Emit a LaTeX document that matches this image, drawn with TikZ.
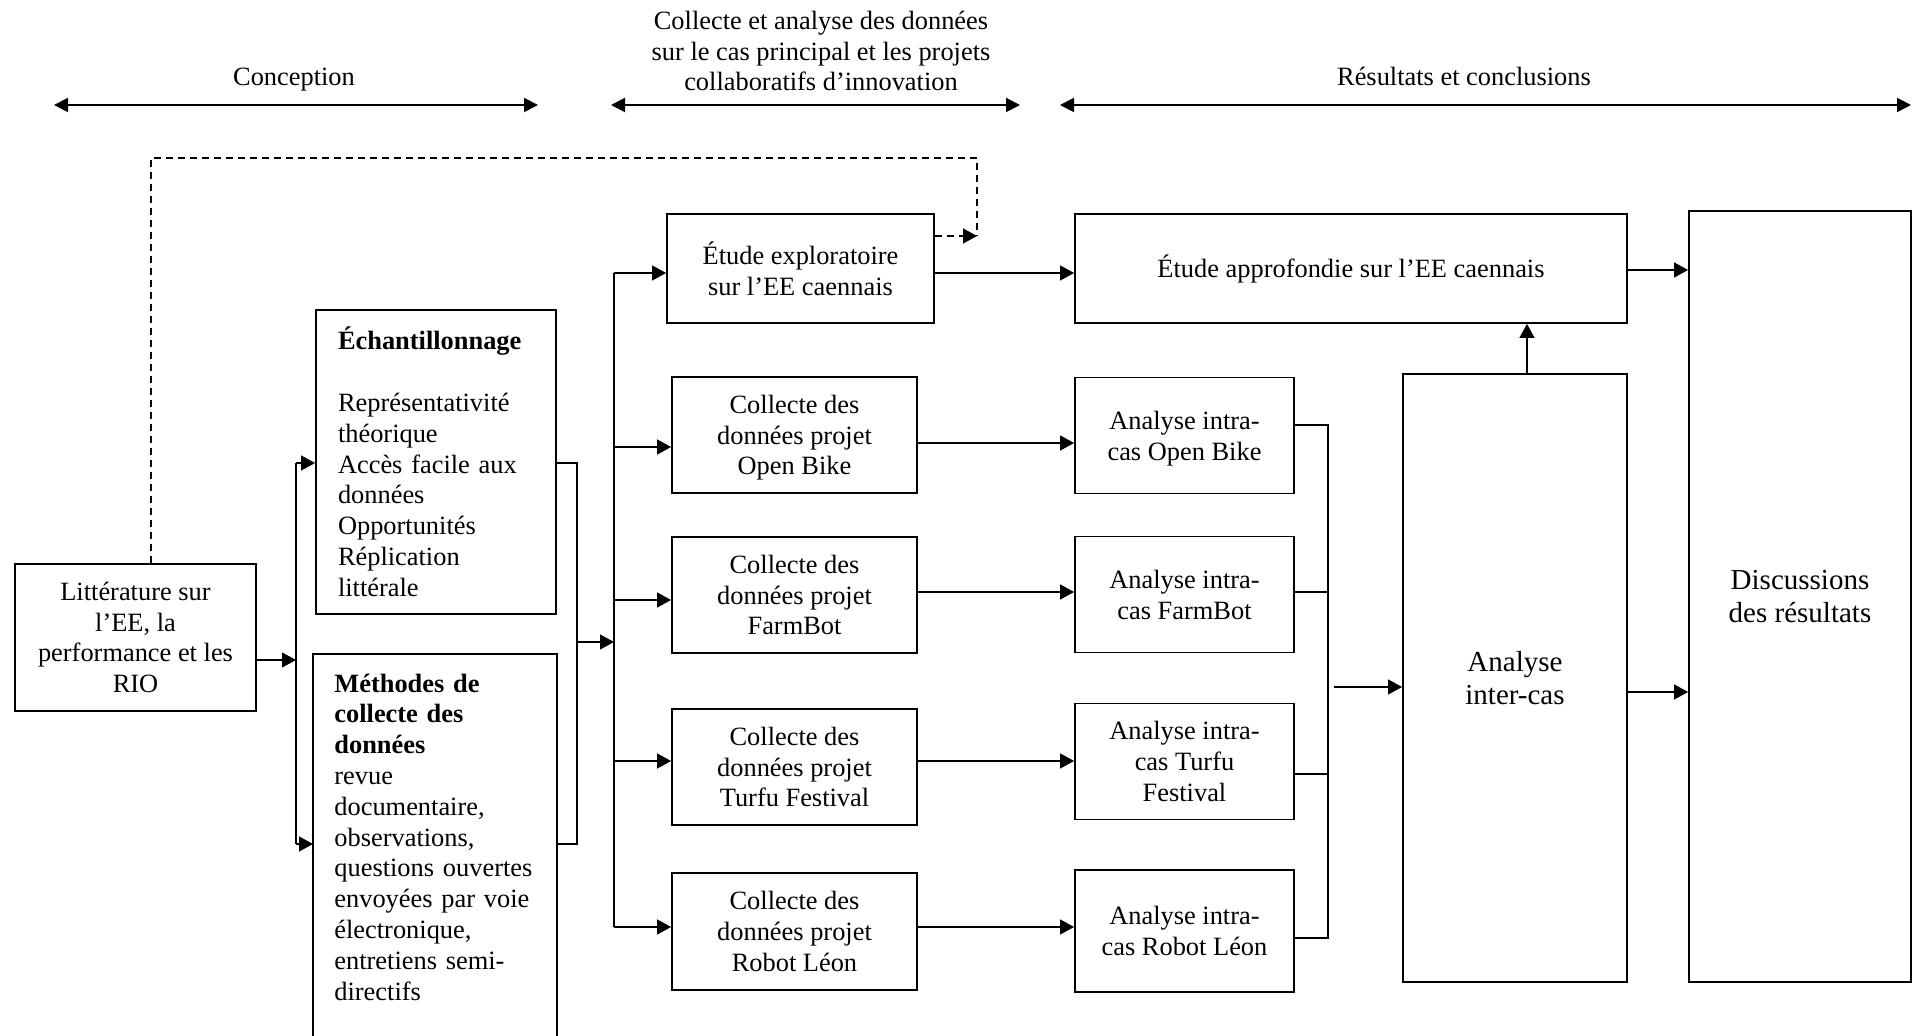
\documentclass[tikz,border=0pt]{standalone}
\usepackage{fontspec}
\setmainfont{Liberation Serif}
\usetikzlibrary{arrows.meta,calc}
\newcommand\szA{\fontsize{13.2pt}{15.4pt}\selectfont}
\newcommand\szB{\fontsize{14.5pt}{16.6pt}\selectfont}
\begin{document}
\begin{tikzpicture}[x=0.5pt,y=-0.5pt,
 box/.style={draw, line width=0.9pt, align=center, inner sep=2pt, font=\szA},
 conn/.style={line width=0.6pt},
 arr/.style={line width=0.6pt, -{Triangle[length=7pt,width=7.5pt]}},
 harr/.style={line width=1pt, {Triangle[length=7pt,width=7pt]}-{Triangle[length=7pt,width=7pt]}},
 dline/.style={line width=0.6pt, dash pattern=on 3.5pt off 2.5pt},
 hdr/.style={font=\szA, align=center, inner sep=0pt}]
\useasboundingbox (0,0) rectangle (1913,1036);
\fill[white] (0,0) rectangle (1913,1036);

% headers
\node[hdr, anchor=base] (h1) at (294,85.5) {Conception};
\node[hdr] (h2) at (821,51) {Collecte et analyse des données\\sur le cas principal et les projets\\collaboratifs d’innovation};
\node[hdr, anchor=base] (h3) at (1464,85.5) {Résultats et conclusions};
\coordinate (ha1) at (54,105); \coordinate (hb1) at (538,105);
\coordinate (ha2) at (611,105); \coordinate (hb2) at (1020,105);
\coordinate (ha3) at (1060,105); \coordinate (hb3) at (1911,105);
\draw[harr] (ha1) -- (hb1);
\draw[harr] (ha2) -- (hb2);
\draw[harr] (ha3) -- (hb3);

% boxes
\node[box, minimum width=120.5pt, minimum height=73.5pt] (litt) at (135.5,637.5) {Littérature sur\\l’EE, la\\performance et les\\RIO};

\node[box, align=left, text width=98pt, inner xsep=11pt, minimum height=152pt] (ech) at (436,462) {\textbf{Échantillonnage}\\[15.4pt]Représentativité\\théorique\\Accès facile aux\\données\\Opportunités\\Réplication\\littérale};

\node[anchor=north west, align=left, text width=100.5pt, inner xsep=10.5pt, inner ysep=9.7pt, font=\szA] (meth) at (313,654) {\textbf{Méthodes de}\\\textbf{collecte des}\\\textbf{données}\\revue\\documentaire,\\observations,\\questions ouvertes\\envoyées par voie\\électronique,\\entretiens semi-\\directifs};
\coordinate (methbot) at (0,1080);
\draw[line width=0.9pt] (meth.north west |- methbot) -- (meth.north west) -- (meth.north east) -- (meth.north east |- methbot);

\node[box, minimum width=133.5pt, minimum height=54.5pt] (expl) at (800.5,268.5) {Étude exploratoire\\sur l’EE caennais};

\node[box, minimum width=122.5pt, minimum height=58pt, text depth=-0.7pt] (c1) at (794.5,435) {Collecte des\\données projet\\Open Bike};
\node[box, minimum width=122.5pt, minimum height=58pt] (c2) at (794.5,595) {Collecte des\\données projet\\FarmBot};
\node[box, minimum width=122.5pt, minimum height=58pt, text depth=-2.4pt] (c3) at (794.5,767) {Collecte des\\données projet\\Turfu Festival};
\node[box, minimum width=122.5pt, minimum height=58.5pt] (c4) at (794.5,931.5) {Collecte des\\données projet\\Robot Léon};

\node[box, minimum width=109.5pt, minimum height=58pt, text depth=-2pt] (a1) at (1184.5,435.5) {Analyse intra-\\cas Open Bike};
\node[box, minimum width=109.5pt, minimum height=58pt, text depth=-2.4pt] (a2) at (1184.5,594.5) {Analyse intra-\\cas FarmBot};
\node[box, minimum width=109.5pt, minimum height=58pt, text depth=-2.4pt] (a3) at (1184.5,761.5) {Analyse intra-\\cas Turfu\\Festival};
\node[box, minimum width=109.5pt, minimum height=61pt] (a4) at (1184.5,931) {Analyse intra-\\cas Robot Léon};

\node[box, minimum width=276pt, minimum height=54.5pt] (appr) at (1351,268.5) {Étude approfondie sur l’EE caennais};
\node[box, font=\szB, minimum width=112pt, minimum height=304pt] (inter) at (1515,678) {Analyse\\inter-cas};
\node[box, font=\szB, minimum width=111pt, minimum height=385.5pt] (disc) at (1800,596.5) {Discussions\\des résultats};

% left connectors
\coordinate (j1) at (296,660);
\coordinate (j1t) at (296,463);
\coordinate (j1b) at (296,844);
\draw[arr] (litt.east |- j1) -- (j1);
\draw[conn] (j1t) -- (j1b);
\draw[arr] (j1t) -- (ech.west |- j1t);
\draw[arr] (j1b) -- (meth.west |- j1b);
\coordinate (k1) at (577,463);
\coordinate (k2) at (577,844);
\coordinate (m0) at (577,642);
\draw[conn] (ech.east |- k1) -- (k1) -- (k2) -- (meth.east |- k2);

% main vertical
\coordinate (mt) at (614,273);
\coordinate (mb) at (614,927);
\coordinate (mv) at (614,642);
\coordinate (e1) at (614,447);
\coordinate (e2) at (614,600);
\coordinate (e3) at (614,761);
\draw[arr] (m0) -- (mv);
\draw[conn] (mt) -- (mb);
\draw[arr] (mt) -- (expl.west |- mt);
\draw[arr] (e1) -- (c1.west |- e1);
\draw[arr] (e2) -- (c2.west |- e2);
\draw[arr] (e3) -- (c3.west |- e3);
\draw[arr] (mb) -- (c4.west |- mb);

% collecte -> analyse
\draw[arr] (c1.east |- 0,443) -- (a1.west |- 0,443);
\draw[arr] (c2.east |- 0,592) -- (a2.west |- 0,592);
\draw[arr] (c3.east |- 0,761) -- (a3.west |- 0,761);
\draw[arr] (c4.east |- mb) -- (a4.west |- mb);

% right bracket
\coordinate (b1) at (1328,425);
\coordinate (b2) at (1328,592);
\coordinate (b3) at (1328,774);
\coordinate (b4) at (1328,938);
\coordinate (bo) at (1334,687);
\draw[conn] (a1.east |- b1) -- (b1) -- (b4) -- (a4.east |- b4);
\draw[conn] (a2.east |- b2) -- (b2);
\draw[conn] (a3.east |- b3) -- (b3);
\draw[arr] (bo) -- (inter.west |- bo);

% upper right
\draw[arr] (expl.east |- mt) -- (appr.west |- mt);
\coordinate (up) at (1527,0);
\draw[arr] (inter.north -| up) -- (appr.south -| up);
\draw[arr] (appr.east |- 0,270) -- (disc.west |- 0,270);
\draw[arr] (inter.east |- 0,692) -- (disc.west |- 0,692);

% dashed feedback
\coordinate (d1) at (151,158);
\coordinate (d2) at (977,158);
\coordinate (d3) at (977,236);
\draw[dline] (litt.north -| d1) -- (d1) -- (d2) -- (d3);
\draw[dline, -{Triangle[length=7pt,width=7.5pt]}] (expl.east |- d3) -- (d3);
\end{tikzpicture}
\end{document}
